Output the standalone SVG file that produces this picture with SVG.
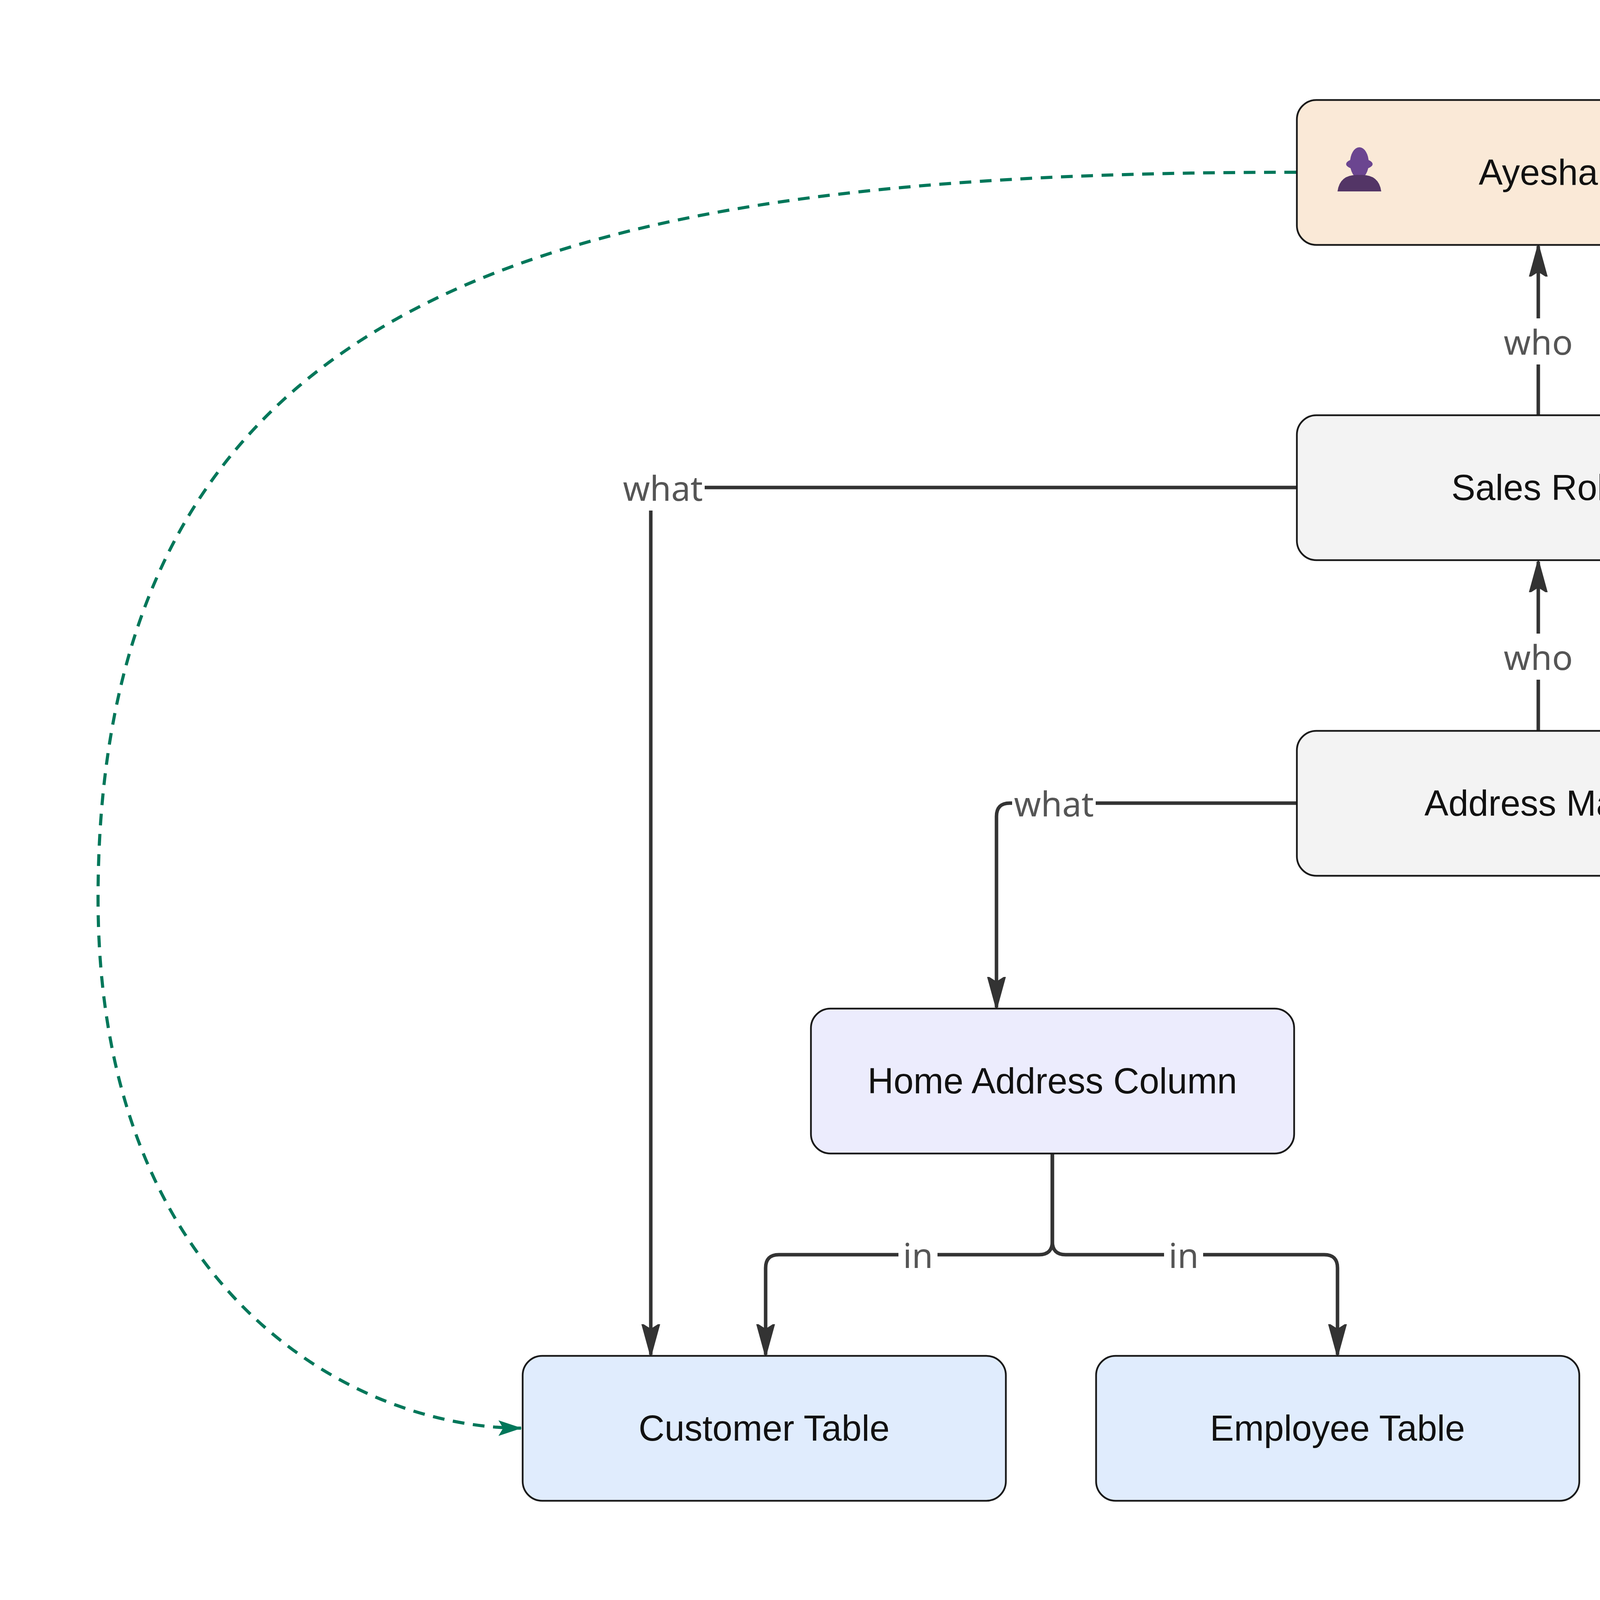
<svg xmlns="http://www.w3.org/2000/svg" width="6063" height="4122" viewBox="0 0 6063 4122">
<style>
.n{stroke:#1a1a1a;stroke-width:4.5}
.t{font-family:"Liberation Sans",Arial,sans-serif;font-size:92px;fill:#111;text-anchor:middle;dominant-baseline:central}
.e{fill:none;stroke:#333;stroke-width:9}
.l{font-family:"Noto Sans","Open Sans",sans-serif;font-size:88px;fill:#555;text-anchor:middle;dominant-baseline:central}
.lb{fill:#fff}
</style>
<defs>
<marker id="a" markerUnits="userSpaceOnUse" viewBox="0 0 80 50" refX="78" refY="25" markerWidth="80" markerHeight="50" orient="auto">
<path d="M0,3 L80,25 L0,47 L14,25 Z" fill="#333" stroke="#333" stroke-width="4" stroke-linejoin="round"/>
</marker>
<marker id="g" markerUnits="userSpaceOnUse" viewBox="0 0 60 44" refX="58" refY="22" markerWidth="60" markerHeight="44" orient="auto">
<path d="M0,2 L60,22 L0,42 L12,22 Z" fill="#00775a"/>
</marker>
</defs>
<rect width="6063" height="4122" fill="#fff"/>
<g id="connectors">
<path class="e" d="M3938,1063 V630" marker-end="url(#a)"/>
<path class="e" d="M3938,1871 V1438" marker-end="url(#a)"/>
<path class="e" d="M3320,1248 H1700 Q1666,1248 1666,1282 V3468" marker-end="url(#a)"/>
<path class="e" d="M3320,2056 H2585 Q2551,2056 2551,2090 V2579" marker-end="url(#a)"/>
<path class="e" d="M4556,2056 H5149 Q5183,2056 5183,2090 V2579" marker-end="url(#a)"/>
<path class="e" d="M2694,2953 V3178 Q2694,3212 2660,3212 H1994 Q1960,3212 1960,3246 V3468" marker-end="url(#a)"/>
<path class="e" d="M2694,2953 V3178 Q2694,3212 2728,3212 H3390 Q3424,3212 3424,3246 V3468" marker-end="url(#a)"/>
<path class="e" d="M5183,2953 V3468" marker-end="url(#a)"/>
<path d="M3318,441 C1500,441 251,700 251,2300 C251,3300 900,3656 1334,3656" fill="none" stroke="#00775a" stroke-width="8" stroke-dasharray="30,22" marker-end="url(#g)"/>
<rect class="lb" x="3860" y="815" width="156" height="118"/><text class="l" x="3938" y="874">who</text>
<rect class="lb" x="3860" y="1622" width="156" height="118"/><text class="l" x="3938" y="1681">who</text>
<rect class="lb" x="1590" y="1189" width="214" height="118"/><text class="l" x="1697" y="1248">what</text>
<rect class="lb" x="2591" y="1997" width="214" height="118"/><text class="l" x="2698" y="2056">what</text>
<rect class="lb" x="4995" y="1997" width="214" height="118"/><text class="l" x="5102" y="2056">what</text>
<rect class="lb" x="2300" y="3153" width="100" height="118"/><text class="l" x="2350" y="3212">in</text>
<rect class="lb" x="2980" y="3153" width="100" height="118"/><text class="l" x="3030" y="3212">in</text>
<rect class="lb" x="5133" y="3130" width="100" height="118"/><text class="l" x="5183" y="3189">in</text>
</g>
<g id="ayesha">
<rect class="n" x="3320" y="256" width="1237" height="371" rx="50" fill="#fae9d7"/>
<ellipse cx="3480" cy="417" rx="24" ry="40" fill="#6b4590"/>
<ellipse cx="3480" cy="420" rx="34" ry="14" fill="#6b4590"/>
<path d="M3424,490 Q3430,445 3480,448 Q3530,445 3536,490 Z" fill="#533566"/>
<text class="t" x="3938" y="441">Ayesha</text>
</g>
<g id="sales"><rect class="n" x="3320" y="1063" width="1237" height="371" rx="50" fill="#f3f3f3"/><text class="t" x="3938" y="1248">Sales Role</text></g>
<g id="mask"><rect class="n" x="3320" y="1871" width="1237" height="371" rx="50" fill="#f3f3f3"/><text class="t" x="3938" y="2056">Address Mask</text></g>
<g id="home"><rect class="n" x="2076" y="2582" width="1237" height="371" rx="50" fill="#ececfd"/><text class="t" x="2694" y="2767">Home Address Column</text></g>
<g id="billing"><rect class="n" x="4565" y="2582" width="1237" height="371" rx="50" fill="#ececfd"/><text class="t" x="5183" y="2767">Billing Address Column</text></g>
<g id="customer"><rect class="n" x="1338" y="3471" width="1237" height="371" rx="50" fill="#e0ecfd"/><text class="t" x="1956" y="3656">Customer Table</text></g>
<g id="employee"><rect class="n" x="2806" y="3471" width="1237" height="371" rx="50" fill="#e0ecfd"/><text class="t" x="3424" y="3656">Employee Table</text></g>
<g id="invoice"><rect class="n" x="4565" y="3471" width="1237" height="371" rx="50" fill="#e0ecfd"/><text class="t" x="5183" y="3656">Invoice Table</text></g>
</svg>
